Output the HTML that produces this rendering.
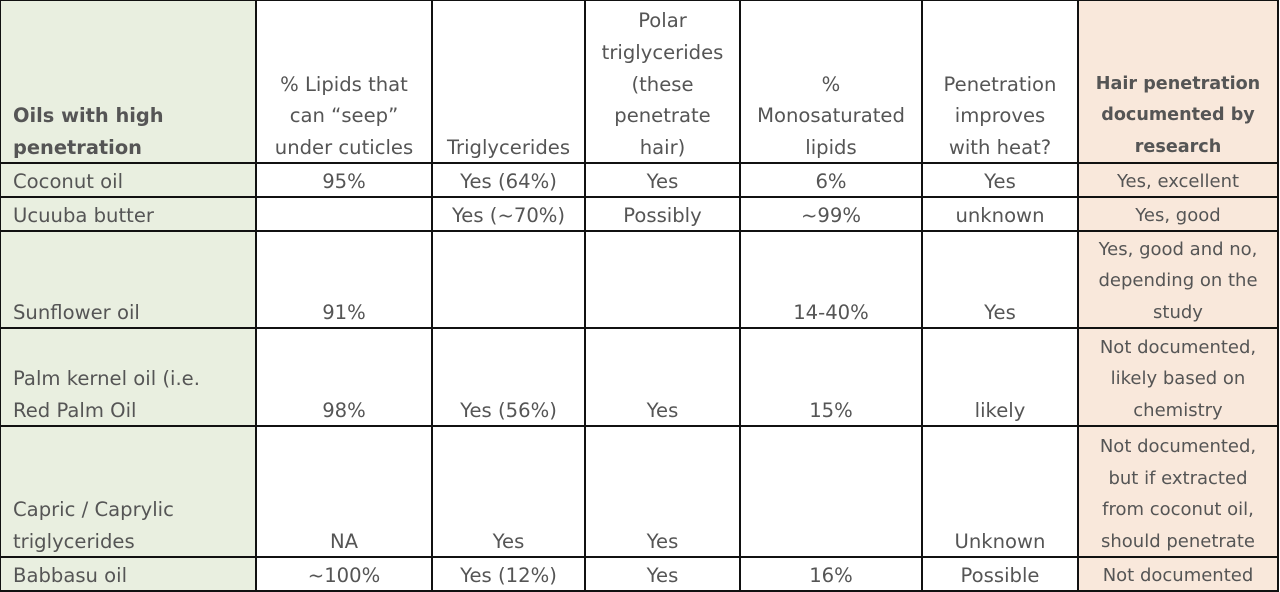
<!DOCTYPE html>
<html><head><meta charset="utf-8">
<style>
html,body{margin:0;padding:0;background:#fff;}
body{width:1280px;height:589px;position:relative;overflow:hidden;font-family:"DejaVu Sans","Liberation Sans",sans-serif;color:#555;}
.c{position:absolute;box-sizing:border-box;border:2px solid #111;display:flex;flex-direction:column;justify-content:flex-end;align-items:center;text-align:center;font-size:19.6px;line-height:31.8px;padding-bottom:0px;white-space:nowrap;}
.c span{position:relative;top:2px;}
.l{align-items:flex-start;text-align:left;padding-left:12px;}
.g{background:#e9efe0;}
.p{background:#f9e8db;font-size:18px;}
.b{font-weight:bold;}
</style></head><body>
<div id="t"></div>
<script>
const xs=[0,256,432,585,740,922,1078,1278];
const ys=[0,163,197,231,328,426,557,591];
const header=["Oils with high<br>penetration","% Lipids that<br>can “seep”<br>under cuticles","Triglycerides","Polar<br>triglycerides<br>(these<br>penetrate<br>hair)","%<br>Monosaturated<br>lipids","Penetration<br>improves<br>with heat?","Hair penetration<br>documented by<br>research"];
const rows=[
["Coconut oil","95%","Yes (64%)","Yes","6%","Yes","Yes, excellent"],
["Ucuuba butter","","Yes (~70%)","Possibly","~99%","unknown","Yes, good"],
["Sunflower oil","91%","","","14-40%","Yes","Yes, good and no,<br>depending on the<br>study"],
["Palm kernel oil (i.e.<br>Red Palm Oil","98%","Yes (56%)","Yes","15%","likely","Not documented,<br>likely based on<br>chemistry"],
["Capric / Caprylic<br>triglycerides","NA","Yes","Yes","","Unknown","Not documented,<br>but if extracted<br>from coconut oil,<br>should penetrate"],
["Babbasu oil","~100%","Yes (12%)","Yes","16%","Possible","Not documented"]];
const t=document.getElementById('t');
const all=[header].concat(rows);
all.forEach((r,ri)=>{r.forEach((txt,ci)=>{
 const d=document.createElement('div');
 let cls='c';
 if(ci===0)cls+=' l g';
 if(ci===6)cls+=' p';
 if(ri===0&&(ci===0||ci===6))cls+=' b';
 d.className=cls;
 d.style.left=(xs[ci]-1)+'px';d.style.top=(ys[ri]-1)+'px';
 d.style.width=(xs[ci+1]-xs[ci]+2)+'px';d.style.height=(ys[ri+1]-ys[ri]+2)+'px';
 if(ri===0&&ci===6)d.style.fontSize='17.6px';
 if(ri===0&&ci===0)d.style.fontSize='19.4px';
 d.innerHTML='<span>'+txt+'</span>';
 
 
 t.appendChild(d);
});});
</script>
</body></html>
